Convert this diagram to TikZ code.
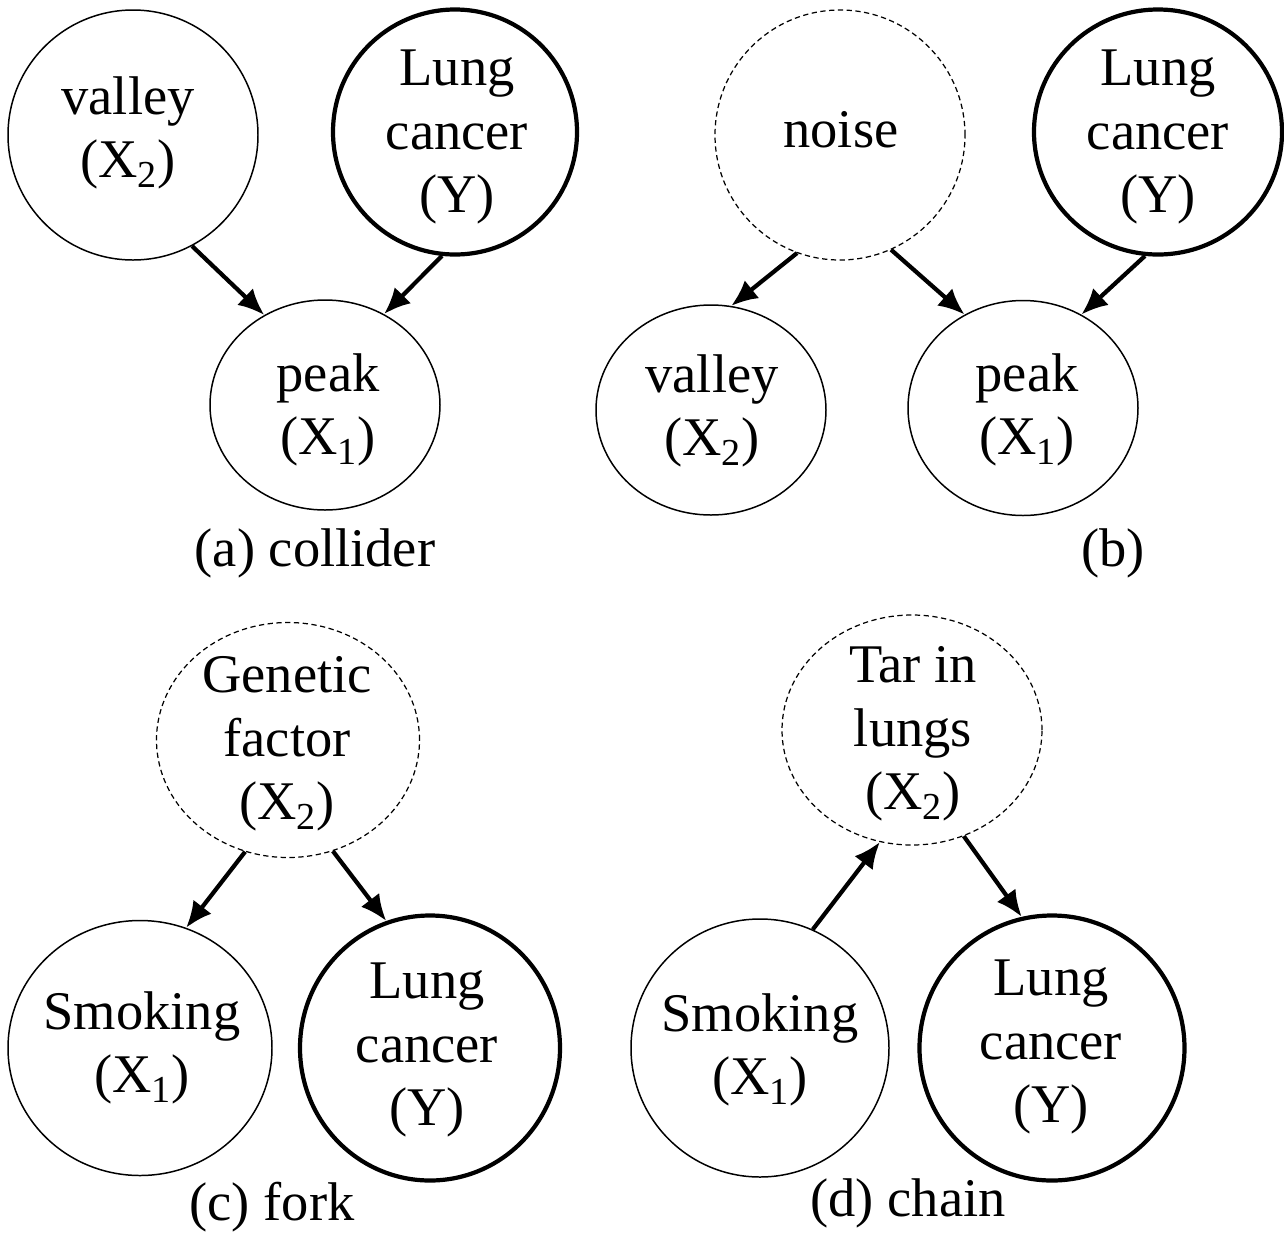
\documentclass[tikz,border=0pt]{standalone}
\usepackage{fontspec}
\setmainfont{Liberation Serif}
\usetikzlibrary{shapes.geometric,arrows.meta}
\tikzset{
  ell/.style={ellipse, draw, inner sep=0pt, line width=0.85pt},
  thickell/.style={ell, line width=2.4pt},
  dashell/.style={ell, line width=0.7pt, dash pattern=on 3pt off 2pt},
  txt/.style={align=center, inner sep=0pt, font=\fontsize{31}{36}\selectfont},
  arr/.style={-{Latex[length=15pt,width=13pt]}, line width=2.4pt},
  captxt/.style={font=\fontsize{31}{36}\selectfont}
}
\begin{document}
\begin{tikzpicture}
\useasboundingbox (0,0) rectangle (25.68,-24.7);
% (a)
\node[ell, minimum width=5.0cm, minimum height=5.0cm] (va) at (2.66,-2.70) {};
\node[txt] (vat) at (2.56,-2.66) {valley\\(X\textsubscript{2})};
\node[thickell, minimum width=4.88cm, minimum height=4.9cm] (la) at (9.10,-2.64) {};
\node[txt] (lat) at (9.14,-2.74) {Lung\\cancer\\(Y)};
\node[ell, minimum width=4.6cm, minimum height=4.2cm] (pa) at (6.50,-8.10) {};
\node[txt] (pat) at (6.56,-8.20) {peak\\(X\textsubscript{1})};
\node[captxt] (capa) at (6.30,-11.06) {(a) collider};
\draw[arr] (va.-62) -- (pa.124);
\draw[arr] (la.-96) -- (pa.57);
% (b)
\node[dashell, minimum width=5.0cm, minimum height=5.0cm] (nb) at (16.80,-2.70) {};
\node[txt] (nbt) at (16.82,-2.60) {noise};
\node[thickell, minimum width=4.96cm, minimum height=4.9cm] (lb) at (23.16,-2.64) {};
\node[txt] (lbt) at (23.16,-2.74) {Lung\\cancer\\(Y)};
\node[ell, minimum width=4.6cm, minimum height=4.2cm] (vb) at (14.22,-8.20) {};
\node[txt] (vbt) at (14.24,-8.22) {valley\\(X\textsubscript{2})};
\node[ell, minimum width=4.6cm, minimum height=4.3cm] (pb) at (20.46,-8.16) {};
\node[txt] (pbt) at (20.54,-8.20) {peak\\(X\textsubscript{1})};
\node[captxt] (capb) at (22.26,-11.06) {(b)};
\draw[arr] (nb.-110) -- (vb.79);
\draw[arr] (nb.-66) -- (pb.122);
\draw[arr] (lb.-96) -- (pb.58);
% (c)
\node[dashell, minimum width=5.26cm, minimum height=4.7cm] (gc) at (5.76,-14.80) {};
\node[txt] (gct) at (5.74,-14.88) {Genetic\\factor\\(X\textsubscript{2})};
\node[ell, minimum width=5.28cm, minimum height=5.1cm] (sc) at (2.80,-20.96) {};
\node[txt] (sct) at (2.84,-20.96) {Smoking\\(X\textsubscript{1})};
\node[thickell, minimum width=5.2cm, minimum height=5.3cm] (lc) at (8.60,-20.96) {};
\node[txt] (lct) at (8.54,-21.00) {Lung\\cancer\\(Y)};
\node[captxt] (capc) at (5.44,-24.14) {(c) fork};
\draw[arr] (gc.-111) -- (sc.69);
\draw[arr] (gc.-68) -- (lc.109);
% (d)
\node[dashell, minimum width=5.2cm, minimum height=4.6cm] (td) at (18.24,-14.60) {};
\node[txt] (tdt) at (18.26,-14.68) {Tar in\\lungs\\(X\textsubscript{2})};
\node[ell, minimum width=5.16cm, minimum height=5.16cm] (sd) at (15.20,-20.96) {};
\node[txt] (sdt) at (15.20,-21.00) {Smoking\\(X\textsubscript{1})};
\node[thickell, minimum width=5.3cm, minimum height=5.3cm] (ld) at (21.04,-20.96) {};
\node[txt] (ldt) at (21.02,-20.94) {Lung\\cancer\\(Y)};
\node[captxt] (capd) at (18.16,-24.06) {(d) chain};
\draw[arr] (sd.66) -- (td.-106);
\draw[arr] (td.-64) -- (ld.103);
\end{tikzpicture}
\end{document}
